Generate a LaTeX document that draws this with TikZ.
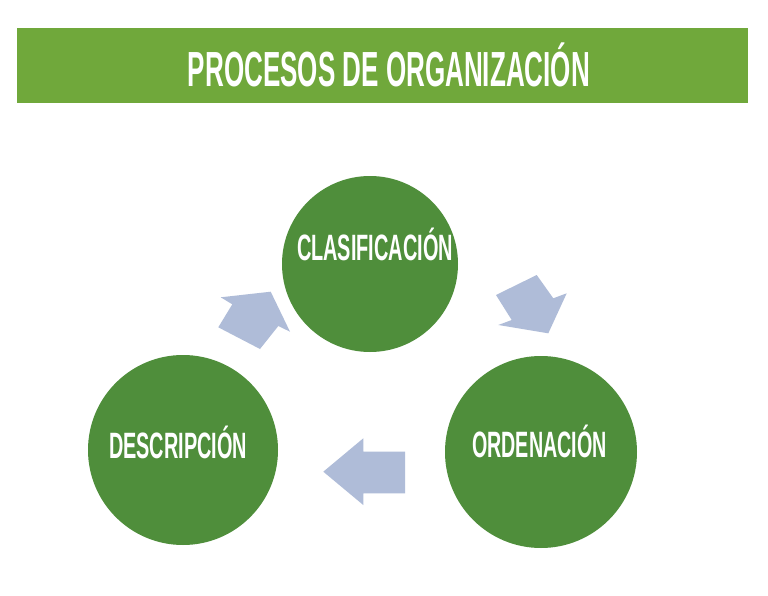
\documentclass[tikz,border=0pt]{standalone}
\usepackage{fontspec}
\setmainfont{Liberation Sans}
\definecolor{bannergreen}{HTML}{70A83B}
\definecolor{circlegreen}{HTML}{4F8E3B}
\definecolor{arrowblue}{HTML}{AFBCD8}
\tikzset{
  banner/.style={fill=bannergreen, draw=none, rectangle, minimum width=548.25pt, minimum height=56.25pt, inner sep=0pt},
  stagecircle/.style={fill=circlegreen, draw=none, circle, inner sep=0pt},
  titletext/.style={text=white, font=\bfseries\fontsize{37}{44}\selectfont, inner sep=0pt, anchor=base},
  stagetext/.style={text=white, font=\bfseries\fontsize{27.5}{33}\selectfont, inner sep=0pt, anchor=base},
  blockarrow/.style={fill=arrowblue, draw=none}
}
\begin{document}
\begin{tikzpicture}[x=0.75pt,y=-0.75pt]
\useasboundingbox (0,0) rectangle (768,596);
\fill[white] (0,0) rectangle (768,596);
% banner
\node[banner] (bar) at (382.5,65.5) {};
\node[titletext] (title) at (389,86) {\resizebox{301.5pt}{\height}{PROCESOS DE ORGANIZACIÓN}};
% circles
\node[stagecircle, minimum size=132pt] (clas) at (370,264) {};
\node[stagecircle, minimum size=142.5pt] (desc) at (183,450) {};
\node[stagecircle, minimum size=144pt] (orde) at (541,452) {};
\node[stagetext] (tclas) at (375,260) {\resizebox{117pt}{\height}{CLASIFICACIÓN}};
\node[stagetext] (tdesc) at (178,458) {\resizebox{103.5pt}{\height}{DESCRIPCIÓN}};
\node[stagetext] (torde) at (539.5,457) {\resizebox{101pt}{\height}{ORDENACIÓN}};
% block arrows
\fill[blockarrow] (220.7,297.3) -- (270.7,291.7) -- (290,331.7) -- (278.3,326) -- (260,349) -- (218.3,327.3) -- (232.3,304.3) -- cycle;
\fill[blockarrow] (536.7,275) -- (553.3,298.3) -- (566.7,293.3) -- (548.3,333.3) -- (498.3,325) -- (511.7,320) -- (496,295) -- cycle;
\fill[blockarrow] (323.3,471.7) -- (363.3,438.3) -- (363.3,451.7) -- (405,451.7) -- (405,493.3) -- (363.3,493.3) -- (363.3,505) -- cycle;
\end{tikzpicture}
\end{document}
